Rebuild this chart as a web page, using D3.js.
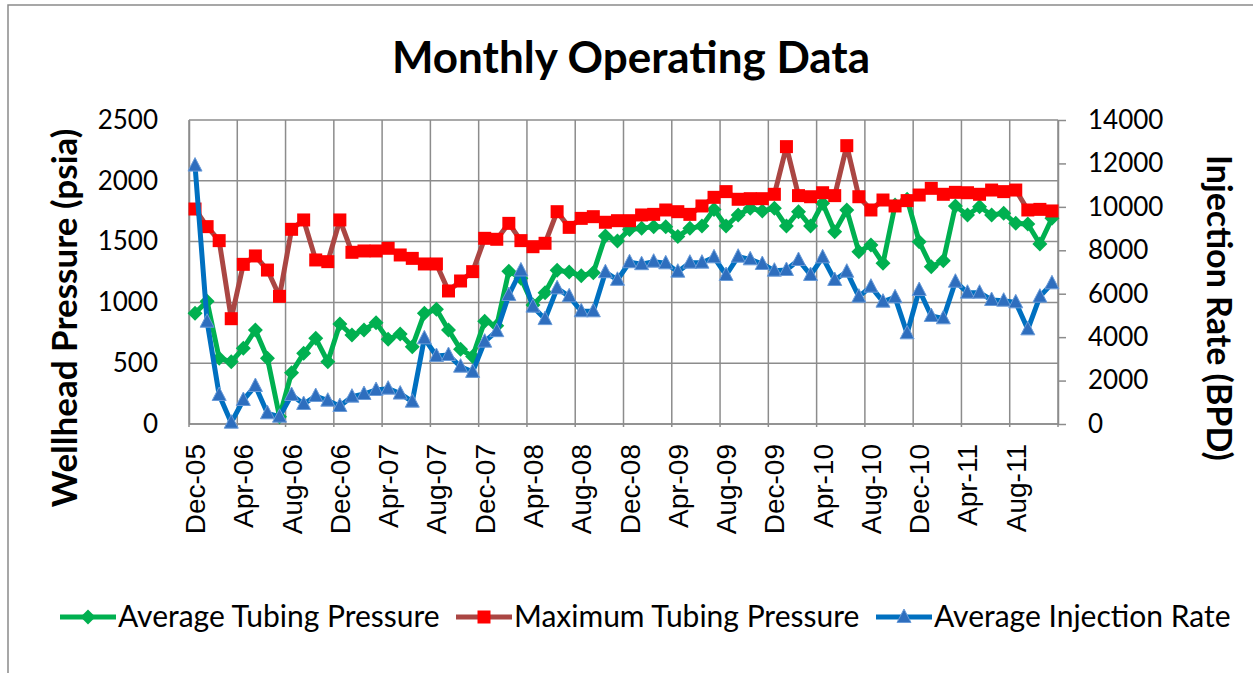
<!DOCTYPE html>
<html>
<head>
<meta charset="utf-8">
<script src="https://cdn.jsdelivr.net/npm/d3@7"></script>
<style>
  body { margin: 0; background: #fff; }
  svg { display: block; }
</style>
</head>
<body>
<svg id="chart" width="1253" height="673"></svg>
<script>
// monthly categories, Dec-05 .. Nov-11
const months = [
  "Dec-05", "Jan-06", "Feb-06", "Mar-06", "Apr-06", "May-06", "Jun-06", "Jul-06", "Aug-06", "Sep-06", "Oct-06", "Nov-06",
  "Dec-06", "Jan-07", "Feb-07", "Mar-07", "Apr-07", "May-07", "Jun-07", "Jul-07", "Aug-07", "Sep-07", "Oct-07", "Nov-07",
  "Dec-07", "Jan-08", "Feb-08", "Mar-08", "Apr-08", "May-08", "Jun-08", "Jul-08", "Aug-08", "Sep-08", "Oct-08", "Nov-08",
  "Dec-08", "Jan-09", "Feb-09", "Mar-09", "Apr-09", "May-09", "Jun-09", "Jul-09", "Aug-09", "Sep-09", "Oct-09", "Nov-09",
  "Dec-09", "Jan-10", "Feb-10", "Mar-10", "Apr-10", "May-10", "Jun-10", "Jul-10", "Aug-10", "Sep-10", "Oct-10", "Nov-10",
  "Dec-10", "Jan-11", "Feb-11", "Mar-11", "Apr-11", "May-11", "Jun-11", "Jul-11", "Aug-11", "Sep-11", "Oct-11", "Nov-11"
];

// psia
const avgTubing = [
  910, 1010, 540, 512, 622, 773, 540, 60, 422, 581, 705, 512,
  822, 732, 773, 833, 696, 740, 636, 910, 943, 773, 614, 555,
  845, 807, 1257, 1198, 979, 1080, 1265, 1250, 1220, 1244, 1547, 1505,
  1600, 1609, 1623, 1623, 1541, 1609, 1628, 1765, 1628, 1719, 1774, 1752,
  1774, 1628, 1746, 1628, 1815, 1582, 1760, 1417, 1472, 1321, 1801, 1848,
  1499, 1294, 1343, 1793, 1719, 1787, 1719, 1733, 1650, 1645, 1480, 1691
];

const maxTubing = [
  1768, 1623, 1508, 866, 1313, 1382, 1266, 1050, 1601, 1678, 1349, 1335,
  1678, 1412, 1423, 1423, 1445, 1390, 1362, 1316, 1316, 1094, 1176, 1253,
  1527, 1519, 1650, 1508, 1458, 1486, 1746, 1617, 1691, 1705, 1659, 1672,
  1672, 1719, 1724, 1760, 1746, 1724, 1793, 1864, 1911, 1848, 1853, 1853,
  1889, 2281, 1878, 1869, 1902, 1878, 2289, 1869, 1760, 1842, 1793, 1837,
  1883, 1938, 1889, 1905, 1902, 1889, 1924, 1911, 1924, 1760, 1765, 1752
];

// BPD
const avgInjection = [
  11900, 4711, 1335, 60, 1105, 1750, 493, 336, 1335, 921, 1289, 1074,
  829, 1259, 1381, 1566, 1627, 1400, 1028, 3945, 3131, 3177, 2640, 2400,
  3791, 4275, 5940, 7070, 5403, 4830, 6248, 5880, 5190, 5190, 6990, 6640,
  7450, 7360, 7475, 7400, 7014, 7430, 7430, 7675, 6861, 7705, 7583, 7368,
  7061, 7092, 7552, 6861, 7675, 6631, 7014, 5863, 6324, 5633, 5833, 4175,
  6171, 4973, 4866, 6553, 6048, 6048, 5710, 5679, 5602, 4359, 5863, 6478
];

const pressureTicks = [0, 500, 1000, 1500, 2000, 2500];
const rateTicks = [0, 2000, 4000, 6000, 8000, 10000, 12000, 14000];

const svg = d3.select("#chart");
const plot = { left: 189, right: 1058, top: 120, bottom: 424 };
const gridColor = "#8c8c8c";

const x = d3.scaleBand().domain(months).range([plot.left, plot.right]);
const yL = d3.scaleLinear().domain([0, 2500]).range([plot.bottom, plot.top]);
const yR = d3.scaleLinear().domain([0, 14000]).range([plot.bottom, plot.top]);
const cx = (i) => x(months[i]) + x.bandwidth() / 2;

// chart frame
svg.append("rect")
  .attr("x", 8).attr("y", 5).attr("width", 1300).attr("height", 720)
  .attr("fill", "none").attr("stroke", "#8a8a8a").attr("stroke-width", 1.5);

// title
svg.append("text")
  .attr("x", 631).attr("y", 73)
  .attr("text-anchor", "middle")
  .attr("font-family", "Lato").attr("font-weight", "bold").attr("font-size", 44)
  .text("Monthly Operating Data");

// gridlines
svg.append("g").selectAll("line")
  .data(pressureTicks)
  .join("line")
  .attr("x1", plot.left).attr("x2", plot.right)
  .attr("y1", d => yL(d)).attr("y2", d => yL(d))
  .attr("stroke", gridColor).attr("stroke-width", 1.5);

const vGrid = months.filter((m, i) => i % 4 === 0).map(m => x(m)).concat([plot.right]);
svg.append("g").selectAll("line")
  .data(vGrid)
  .join("line")
  .attr("x1", d => d).attr("x2", d => d)
  .attr("y1", plot.top).attr("y2", plot.bottom + 3)
  .attr("stroke", gridColor).attr("stroke-width", 1.5);

// axes
const leftAxis = svg.append("g")
  .attr("transform", `translate(${plot.left},0)`)
  .call(d3.axisLeft(yL).tickValues(pressureTicks).tickFormat(d3.format("d")).tickSize(0).tickPadding(31));
leftAxis.select(".domain").attr("stroke", gridColor).attr("stroke-width", 1.5);
leftAxis.selectAll("text").attr("font-family", "Lato").attr("font-size", 26).attr("fill", "#000");

const rightAxis = svg.append("g")
  .attr("transform", `translate(${plot.right},0)`)
  .call(d3.axisRight(yR).tickValues(rateTicks).tickFormat(d3.format("d")).tickSize(8).tickPadding(22).tickSizeOuter(0));
rightAxis.select(".domain").attr("stroke", gridColor).attr("stroke-width", 1.5);
rightAxis.selectAll("line").attr("stroke", gridColor).attr("stroke-width", 1.5);
rightAxis.selectAll("text").attr("font-family", "Lato").attr("font-size", 26).attr("fill", "#000");

svg.append("line")
  .attr("x1", plot.left).attr("x2", plot.right)
  .attr("y1", plot.bottom).attr("y2", plot.bottom)
  .attr("stroke", gridColor).attr("stroke-width", 1.5);

// x tick labels (every 4th month), rotated
svg.append("g").selectAll("text")
  .data(months.filter((m, i) => i % 4 === 0))
  .join("text")
  .attr("transform", d => `translate(${x(d) + x.bandwidth() / 2 + 10},${plot.bottom + 20}) rotate(-90)`)
  .attr("text-anchor", "end")
  .attr("font-family", "Liberation Sans").attr("font-size", 28)
  .text(d => d);

// axis titles
svg.append("text")
  .attr("transform", "translate(77,318) rotate(-90)")
  .attr("text-anchor", "middle")
  .attr("font-family", "Lato").attr("font-weight", "bold").attr("font-size", 35)
  .text("Wellhead Pressure (psia)");

svg.append("text")
  .attr("transform", "translate(1207,308) rotate(90)")
  .attr("text-anchor", "middle")
  .attr("font-family", "Lato").attr("font-weight", "bold").attr("font-size", 34)
  .text("Injection Rate (BPD)");

// marker shapes
const diamond = "M0,-7.5L7.5,0L0,7.5L-7.5,0Z";
const square = "M-6.5,-6.5H6.5V6.5H-6.5Z";
const triangle = "M0,-8L7,5.5L-7,5.5Z";

const series = [
  { name: "Average Tubing Pressure", values: avgTubing, y: yL, line: "#00B050", fill: "#00B050", stroke: "none", marker: diamond },
  { name: "Maximum Tubing Pressure", values: maxTubing, y: yL, line: "#AA4643", fill: "#FF0000", stroke: "none", marker: square },
  { name: "Average Injection Rate", values: avgInjection, y: yR, line: "#0070C0", fill: "#2E6EBE", stroke: "#6A9BD8", marker: triangle }
];

series.forEach((s) => {
  const line = d3.line().x((d, i) => cx(i)).y(d => s.y(d));
  svg.append("path")
    .datum(s.values)
    .attr("d", line)
    .attr("fill", "none")
    .attr("stroke", s.line)
    .attr("stroke-width", 5)
    .attr("stroke-linejoin", "round");

  svg.append("g").selectAll("path")
    .data(s.values)
    .join("path")
    .attr("d", s.marker)
    .attr("transform", (d, i) => `translate(${cx(i)},${s.y(d)})`)
    .attr("fill", s.fill)
    .attr("stroke", s.stroke)
    .attr("stroke-width", 1);
});

// legend
const legendX = [60, 456, 876];
const legend = svg.append("g").selectAll("g")
  .data(series)
  .join("g")
  .attr("transform", (d, i) => `translate(${legendX[i]},617)`);

legend.append("line")
  .attr("x1", 0).attr("x2", 56)
  .attr("stroke", d => d.line).attr("stroke-width", 5);
legend.append("path")
  .attr("d", d => d.marker)
  .attr("transform", "translate(28,0)")
  .attr("fill", d => d.fill)
  .attr("stroke", d => d.stroke);
legend.append("text")
  .attr("x", 58).attr("y", 10)
  .attr("font-family", "Lato").attr("font-size", 30)
  .text(d => d.name);
</script>
</body>
</html>
